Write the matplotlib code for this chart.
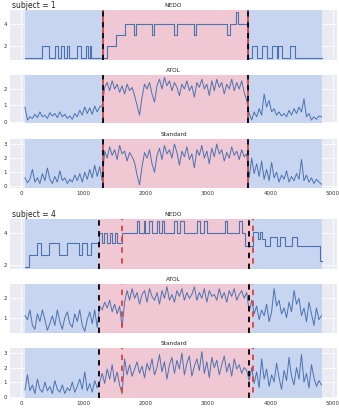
import numpy as np
import matplotlib.pyplot as plt

# epoch times (s) for the score curves
t = np.arange(60, 4821, 40)

# ---- subject 1 ----
nedo1_t = [56, 340, 446, 542, 590, 644, 687, 740, 767, 890, 954, 1034, 1071, 1103, 1125,
           1370, 1515, 1660, 1808, 1840, 2103, 2130, 2460, 2500, 2770, 2800, 3305, 3358,
           3450, 3482, 3640, 3706, 3786, 3866, 3946, 4027, 4107, 4117, 4187, 4320, 4400, 4833]
nedo1_v = [1, 2, 1, 2, 1, 2, 1, 2, 1, 2, 1, 2, 1, 2, 1,
           2, 3, 4, 3, 4, 3, 4, 3, 4, 3, 4, 3, 4,
           5, 4, 1, 2, 1, 2, 1, 2, 1, 2, 1, 2, 1, 1]
atol1 = ([0.9, 0.1, 0.3, 0.2, 0.45, 0.25, 0.6, 0.3, 0.4, 0.2, 0.55, 0.35, 0.5, 0.25, 0.6, 0.3,
          0.45, 0.2, 0.35, 0.15, 0.5, 0.3, 0.7, 0.4, 0.9, 0.5, 0.85, 0.45, 0.95, 0.6, 0.9, 1.0]
         + [2.1, 2.4, 1.9, 2.5, 2.0, 2.3, 1.8, 2.2, 1.7, 2.3, 1.9, 2.1, 1.6, 1.0, 0.4, 1.5, 2.3, 2.0,
            2.4, 1.7, 1.2, 2.2, 2.6, 2.0, 2.7, 2.2, 2.5, 1.9, 2.4, 2.1, 1.6, 2.3, 2.0, 2.5, 1.9, 2.2,
            1.5, 2.4, 2.1, 2.6, 2.0, 2.3, 1.6, 2.5, 1.9, 2.6, 2.1, 2.4, 1.7, 2.3, 2.0, 2.6, 1.9, 2.4,
            2.0, 2.5, 1.8, 1.3]
         + [0.5, 0.1, 0.6, 0.3, 0.8, 0.4, 1.7, 0.9, 1.3, 0.6, 0.8, 0.4, 0.6, 0.35, 0.5, 0.3, 0.7,
            0.4, 0.8, 0.5, 0.9, 0.6, 1.4, 0.3, 0.5, 0.1, 0.3, 0.15, 0.35, 0.3])
std1 = ([0.6, 0.25, 0.5, 1.2, 0.3, 0.6, 0.2, 0.9, 0.4, 1.3, 0.5, 0.2, 0.7, 0.3, 1.1, 0.4, 0.6,
         0.2, 0.5, 0.3, 0.8, 0.4, 0.9, 0.3, 1.0, 0.5, 1.2, 0.6, 1.5, 0.7, 1.4, 0.4]
        + [2.5, 2.0, 2.8, 2.2, 2.6, 1.9, 2.9, 2.3, 2.5, 1.8, 2.4, 2.1, 1.7, 0.8, 0.1, 1.4, 2.4, 2.0,
           2.6, 1.6, 1.0, 2.2, 2.7, 1.9, 2.9, 2.3, 2.6, 2.0, 3.0, 2.4, 1.5, 2.5, 2.1, 2.8, 1.9, 2.3,
           1.3, 2.6, 2.2, 2.9, 2.0, 2.5, 1.6, 2.7, 2.1, 3.0, 2.3, 2.6, 1.8, 2.4, 2.0, 2.8, 2.2, 2.5,
           1.9, 2.6, 2.1, 2.3]
        + [0.6, 2.0, 0.9, 1.6, 0.7, 1.8, 0.5, 1.2, 0.4, 1.7, 0.6, 1.0, 0.3, 0.8, 0.5, 1.1, 0.3,
           0.7, 0.4, 0.9, 0.5, 1.9, 0.4, 0.8, 0.3, 0.6, 0.2, 0.5, 0.3, 0.15])
black1 = [1310, 3640]
red1 = [1310, 3640]

# ---- subject 4 ----
nedo4_t = [56, 125, 259, 323, 446, 606, 740, 927, 981, 1050, 1114,
           1242, 1300, 1335, 1380, 1420, 1460, 1500, 1540, 1615,
           1862, 1885, 1968, 1990, 2050, 2103, 2183, 2205, 2263, 2300,
           2450, 2504, 2557, 2610, 2824, 2877, 2930, 2985, 3278, 3305, 3491, 3546, 3600,
           3726, 3797, 3830, 3860, 3920,
           4000, 4107, 4160, 4240, 4347, 4427, 4800, 4830]
nedo4_v = [1.85, 2.6, 3.4, 2.6, 3.4, 2.6, 3.4, 2.6, 3.4, 2.6, 3.4,
           4.0, 3.4, 4.0, 3.4, 4.0, 3.4, 4.0, 3.4, 4.0,
           4.75, 4.0, 4.75, 4.0, 4.75, 4.0, 4.75, 4.0, 4.75, 4.0,
           4.75, 4.0, 4.75, 4.0, 4.75, 4.0, 4.75, 4.0, 4.75, 4.0, 4.75, 4.0, 3.2,
           4.1, 3.6, 4.1, 3.6, 3.2,
           3.75, 3.2, 3.75, 3.2, 3.75, 3.2, 2.2, 2.2]
atol4 = ([1.1, 0.9, 1.4, 0.6, 0.4, 1.2, 0.8, 1.4, 0.9, 0.35, 0.7, 1.1, 0.6, 1.4, 0.8, 0.4, 1.0,
          1.3, 0.7, 0.5, 1.2, 0.8, 1.4, 0.6, 0.3, 0.9, 1.3, 0.7, 1.4, 0.5]
         + [1.6, 1.4, 1.8, 1.5, 1.9, 1.3, 1.7, 1.2, 1.6]
         + [0.5, 1.8, 2.4, 1.9, 2.5, 2.0, 2.3, 1.7, 2.2, 2.4, 1.8, 2.5, 2.1, 1.9, 2.3, 1.7, 2.4,
            2.0, 2.6, 1.9, 2.2, 1.8, 2.4, 2.1, 2.5, 1.9, 2.3, 2.0, 2.2, 2.6, 1.9, 2.3, 2.0, 2.5,
            1.8, 2.4, 2.1, 2.2, 1.9, 2.5, 2.0, 2.3, 1.8, 2.4, 2.1, 2.5, 1.9, 2.2, 2.4, 2.0, 2.3]
         + [1.3, 1.9]
         + [1.2, 1.6, 0.9, 1.4, 1.1, 1.7, 0.8, 1.3, 2.5, 1.6, 1.9, 1.2, 1.5, 1.0, 1.8, 1.3, 2.4,
            1.7, 2.0, 1.1, 1.5, 0.8, 1.8, 1.2, 0.6, 1.5, 0.9, 1.1])
std4 = ([0.45, 1.5, 0.4, 0.8, 0.2, 1.2, 0.5, 0.3, 1.0, 0.4, 0.7, 0.2, 1.1, 0.5, 0.3, 0.8, 0.2,
         0.6, 0.4, 1.0, 0.3, 0.7, 1.2, 0.5, 1.7, 0.4, 0.9, 0.3, 1.1, 0.6]
        + [1.0, 1.6, 0.9, 1.9, 1.2, 2.2, 1.0, 1.7, 0.8]
        + [0.2, 2.6, 1.5, 2.2, 1.4, 1.9, 2.4, 1.6, 2.1, 1.3, 2.3, 1.8, 2.6, 1.5, 2.0, 2.9, 1.7,
           2.4, 1.2, 2.2, 2.7, 1.6, 2.5, 1.9, 3.0, 1.5, 2.3, 2.8, 1.4, 2.1, 2.6, 1.8, 3.1, 1.6,
           2.4, 1.3, 2.7, 2.0, 2.5, 1.5, 2.2, 2.8, 1.7, 2.3, 1.4, 2.6, 1.9, 2.2, 1.6, 2.0, 1.8]
        + [1.1, 2.0]
        + [0.9, 1.7, 0.6, 2.6, 1.2, 1.9, 0.7, 1.5, 1.0, 2.3, 1.3, 0.5, 1.8, 1.1, 2.7, 1.4, 0.8,
           2.0, 1.2, 2.9, 1.0, 1.6, 0.6, 2.2, 1.3, 0.7, 1.1, 0.8])
black4 = [1242, 3657]
red4 = [1615, 3726]

W, H = 339, 411
fig = plt.figure(figsize=(W / 100, H / 100), dpi=100)

BG = '#EAEAF2'
BLUE_SPAN = '#C7D5F0'
PINK_SPAN = '#F0C8D3'
LINE = '#4C72B0'


def make_ax(top, bottom, ylim, yticks, xlabels):
    ax = fig.add_axes([10 / W, 1 - bottom / H, 327 / W, (bottom - top) / H])
    ax.set_facecolor(BG)
    ax.set_axisbelow(True)
    ax.grid(True, color='white', lw=0.6)
    for s in ax.spines.values():
        s.set_visible(False)
    ax.set_xlim(-180, 5070)
    ax.set_ylim(*ylim)
    ax.set_xticks([0, 1000, 2000, 3000, 4000, 5000])
    ax.set_yticks(yticks)
    ax.tick_params(length=0, labelsize=4, labelcolor='#333333', pad=2)
    if not xlabels:
        ax.set_xticklabels([])
    return ax


def shade(ax, start, end, lo, hi):
    ax.axvspan(start, lo, color=BLUE_SPAN, zorder=1, lw=0)
    ax.axvspan(lo, hi, color=PINK_SPAN, zorder=1, lw=0)
    ax.axvspan(hi, end, color=BLUE_SPAN, zorder=1, lw=0)


def vlines(ax, blacks, reds):
    for x in reds:
        ax.axvline(x, color='#D9413E', ls=(3, (3, 3)), lw=1.3, zorder=4)
    for x in blacks:
        ax.axvline(x, color='black', ls=(0, (3, 3)), lw=1.3, zorder=5)


subjects = [
    ('subject = 1', nedo1_t, nedo1_v, atol1, std1, black1, red1, 1310, 3640,
     [(10, 60), (75, 123), (139, 188)], [(0.8, 5.2), (-0.08, 2.86), (-0.12, 3.36)]),
    ('subject = 4', nedo4_t, nedo4_v, atol4, std4, black4, red4, 1242, 3700,
     [(219, 269), (284, 333), (348, 398)], [(1.72, 4.9), (0.21, 2.74), (-0.1, 3.35)]),
]

for name, nt, nv, atol, std, blk, rd, lo, hi, rows, ylims in subjects:
    fig.text(12 / W, 1 - (rows[0][0] - 5) / H, name, fontsize=5.5, color='#222222', va='center')
    titles = ['NEDO', 'ATOL', 'Standard']
    yts = [[2, 4], [0, 1, 2] if ylims[1][0] < 0 else [1, 2], [0, 1, 2, 3]]
    for k in range(3):
        top, bottom = rows[k]
        ax = make_ax(top, bottom, ylims[k], yts[k], k == 2)
        ax.set_title(titles[k], fontsize=4.2, pad=2, color='#222222')
        if k == 0:
            shade(ax, nt[0], nt[-1], lo, hi)
            ax.plot(nt, nv, drawstyle='steps-post', color=LINE, lw=0.8, zorder=3)
        else:
            vals = atol if k == 1 else std
            shade(ax, 56, 4830, lo, hi)
            ax.plot(t, vals, color=LINE, lw=0.7, zorder=3)
        vlines(ax, blk, rd)

fig.savefig('out.png', dpi=100)
